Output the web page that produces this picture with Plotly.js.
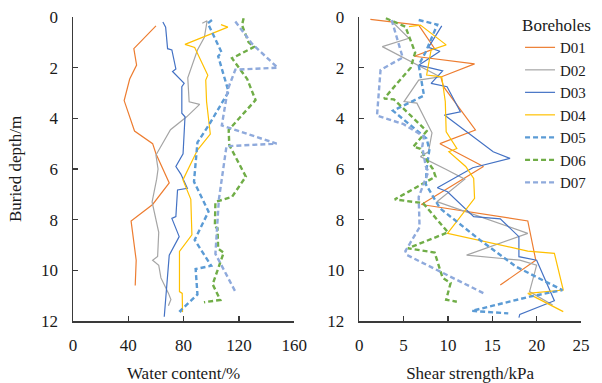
<!DOCTYPE html>
<html>
<head>
<meta charset="utf-8">
<script src="https://cdn.plot.ly/plotly-3.0.1.min.js"></script>
<style>html,body{margin:0;padding:0;background:#fff;}#chart{width:602px;height:383px;}</style>
</head>
<body>
<div id="chart"></div>
<script>
// ---- Data: water content (%) vs depth (m) ----
const boreholes = ["D01", "D02", "D03", "D04", "D05", "D06", "D07"];

const wcD01_depth = [0.35, 1.25, 1.9, 2.45, 3.3, 4.5, 5.0, 5.4, 6.55, 7.4, 8.05, 9.6, 10.6];
const wcD01_value = [60, 44, 46, 41, 37, 44.5, 57.6, 60, 69.6, 57.6, 42, 45.7, 45];

const wcD02_depth = [0.25, 0.15, 0.8, 1.3, 2.4, 3.35, 3.45, 3.95, 4.45, 5.45, 6.0, 6.4, 7.3, 8.5, 9.45, 9.6, 9.8, 10.3, 10.9, 11.15, 11.4];
const wcD02_value = [93.5, 97, 95, 90, 83, 84, 91.6, 82, 70.5, 60, 61.5, 60.5, 57.2, 62, 61.2, 57.6, 62, 63.6, 69, 70.8, 69];

const wcD03_depth = [0.2, 0.4, 1.25, 1.3, 2.05, 2.15, 2.62, 2.75, 3.8, 3.94, 5.4, 5.9, 6.2, 6.76, 6.83, 7.88, 7.95, 8.67, 9.4, 10.84, 11.83];
const wcD03_value = [65, 67, 68.4, 71.5, 74.4, 72, 80.4, 78.7, 78.7, 81, 79.6, 74.4, 78, 82.7, 75.6, 74.4, 71.5, 76.8, 69.6, 67.7, 66];

const wcD04_depth = [0.3, 0.4, 1.08, 1.2, 2.3, 2.49, 3.34, 4.26, 4.62, 5.25, 6.43, 7.2, 8.6, 9.25, 10.84, 10.91, 11.65];
const wcD04_value = [107, 112, 81, 88, 97.5, 96, 96.6, 98.3, 99.3, 90, 79.5, 85.2, 86, 77, 77, 79, 79.2];

const wcD05_depth = [0.12, 0.25, 1.4, 1.55, 2.95, 4.26, 4.95, 5.5, 6.5, 7.68, 8.8, 9.82, 9.95, 10.95, 11.6, 11.72];
const wcD05_value = [100.5, 97.5, 107.5, 105, 112.5, 98.3, 90, 89, 87.5, 98, 88, 100, 88.7, 90, 77.5, 80];

const wcD06_depth = [0.05, 0.32, 1.0, 1.18, 1.63, 2.45, 3.28, 4.46, 5.05, 6.0, 6.3, 7.1, 7.3, 8.28, 8.34, 9.15, 9.3, 10.55, 11.17, 11.26];
const wcD06_value = [123.4, 122.2, 127, 131, 115, 126, 132, 112.6, 113, 122.2, 125, 115, 103, 102.6, 104.5, 105, 109, 101, 106.5, 94.7];

const wcD07_depth = [0.18, 1.05, 2.0, 2.08, 2.85, 4.28, 5.0, 5.1, 7.2, 9.35, 10.84];
const wcD07_value = [117.4, 129.4, 148, 117.4, 112, 107.6, 147.3, 111, 105.5, 103, 117.4];

// ---- Data: shear strength (kPa) vs depth (m) ----
const ssD01_depth = [0.09, 0.32, 1.25, 1.55, 1.85, 2.37, 2.75, 4.46, 5.0, 5.9, 7.4, 8.05, 9.6, 10.58];
const ssD01_value = [1.25, 6.7, 8.5, 6.2, 13, 9.2, 9.5, 13.1, 9.1, 14, 7, 19, 19.9, 15.9];

const ssD02_depth = [0.18, 0.84, 1.17, 2.36, 2.49, 3.34, 3.4, 4.57, 5.32, 5.51, 6.0, 6.4, 7.29, 8.54, 9.4, 9.6, 9.8, 10.84, 11.37];
const ssD02_value = [3.7, 5.6, 2.6, 9.1, 6.7, 5.05, 6.5, 8.2, 7.8, 6.9, 9.7, 11.9, 8.75, 19, 12.1, 18.1, 20, 19.2, 21.8];

const ssD03_depth = [0.35, 1.2, 1.35, 1.9, 2.13, 2.62, 2.75, 3.74, 3.87, 5.32, 5.58, 5.95, 6.74, 6.9, 7.88, 7.97, 8.67, 9.46, 9.6, 11.2, 11.74, 11.87];
const ssD03_value = [9.3, 7.8, 9.1, 6.7, 9.4, 8.1, 9.9, 11.4, 9.6, 15.1, 17, 12.8, 8.8, 9.95, 12.9, 15.9, 18, 18, 20, 22, 18.1, 18];

const ssD04_depth = [0.38, 0.32, 1.1, 1.3, 2.29, 2.36, 3.34, 4.53, 5.19, 5.32, 5.9, 6.37, 7.16, 8.54, 9.24, 9.33, 10.78, 10.91, 11.63];
const ssD04_value = [5.6, 6.9, 9.8, 8.1, 7.6, 9.3, 9.7, 9.8, 11, 10.1, 12, 12.9, 13, 9.95, 19, 22, 23, 19, 23];

const ssD05_depth = [0.12, 0.3, 1.37, 1.9, 3.1, 3.7, 4.8, 5.25, 5.97, 6.6, 7.55, 8.8, 9.86, 10.78, 11.04, 11.6, 11.7];
const ssD05_value = [6.7, 8.8, 7.5, 6.7, 7.3, 3.8, 7.6, 7.9, 7.6, 7.5, 9.1, 13.6, 17.7, 22.9, 19.2, 12.7, 16.8];

const ssD06_depth = [0.05, 0.38, 1.4, 2.0, 3.22, 3.25, 4.5, 5.12, 5.2, 5.65, 6.0, 6.3, 7.2, 7.35, 8.5, 9.13, 9.3, 10.3, 10.5, 11.16, 11.24];
const ssD06_value = [3, 5.2, 6.3, 5.8, 2.8, 3.9, 7.6, 6.1, 6.9, 7.6, 8.3, 8.6, 4, 7.2, 10, 5.5, 8.5, 9.4, 10.3, 9.8, 11];

const ssD07_depth = [0.12, 1.6, 2.09, 3.89, 4.23, 4.72, 5.12, 5.9, 6.1, 7.1, 8.3, 9.24, 9.4, 10.9];
const ssD07_value = [3.65, 4.9, 2.4, 2.0, 5.0, 7.3, 7.1, 7.5, 7.8, 6.7, 6.8, 5.2, 5.4, 14];

const depthTicks = [0, 2, 4, 6, 8, 10, 12];
const wcTicks = [0, 40, 80, 120, 160];
const ssTicks = [0, 5, 10, 15, 20, 25];

// ---- Styles ----
const colors = ["#ED7D31", "#A5A5A5", "#4472C4", "#FFC000", "#5B9BD5", "#70AD47", "#8FAADC"];
const dashed = [false, false, false, false, true, true, true];

const wcData = [
  [wcD01_depth, wcD01_value], [wcD02_depth, wcD02_value], [wcD03_depth, wcD03_value],
  [wcD04_depth, wcD04_value], [wcD05_depth, wcD05_value], [wcD06_depth, wcD06_value],
  [wcD07_depth, wcD07_value]
];
const ssData = [
  [ssD01_depth, ssD01_value], [ssD02_depth, ssD02_value], [ssD03_depth, ssD03_value],
  [ssD04_depth, ssD04_value], [ssD05_depth, ssD05_value], [ssD06_depth, ssD06_value],
  [ssD07_depth, ssD07_value]
];

function lineStyle(i) {
  return dashed[i]
    ? {color: colors[i], width: 2.4, dash: "5px,3px"}
    : {color: colors[i], width: 1.2};
}

const traces = [];
wcData.forEach((d, i) => {
  traces.push({
    type: "scatter", mode: "lines", x: d[1], y: d[0],
    xaxis: "x", yaxis: "y", name: boreholes[i], showlegend: false,
    line: lineStyle(i), hoverinfo: "skip"
  });
});
ssData.forEach((d, i) => {
  traces.push({
    type: "scatter", mode: "lines", x: d[1], y: d[0],
    xaxis: "x2", yaxis: "y2", name: boreholes[i], showlegend: true,
    line: lineStyle(i), hoverinfo: "skip"
  });
});

const FONT = "'Liberation Serif', 'Times New Roman', serif";
const TXT = "#1a1a1a";
const axisCommon = {
  showline: true, linecolor: "#3a3a3a", linewidth: 1.5,
  ticks: "inside", ticklen: 5, tickwidth: 1.3, tickcolor: "#3a3a3a",
  showgrid: false, zeroline: false,
  tickfont: {family: FONT, size: 17, color: TXT},
  automargin: false
};

const yDomain = [0, 304 / 312];

const layout = {
  width: 602, height: 383,
  margin: {l: 73, r: 17, t: 9, b: 62},
  paper_bgcolor: "#fff", plot_bgcolor: "#fff",
  font: {family: FONT, color: TXT},
  showlegend: true,
  xaxis: Object.assign({}, axisCommon, {
    domain: [0, 0.4355], range: [0, 160], tickvals: wcTicks, anchor: "y",
    ticklabelstandoff: 8,
    title: {text: "Water content/%", font: {family: FONT, size: 17, color: TXT}, standoff: 13}
  }),
  yaxis: Object.assign({}, axisCommon, {
    domain: yDomain, range: [12, 0], tickvals: depthTicks, anchor: "x",
    ticklabelstandoff: 10,
    title: {text: "Buried depth/m", font: {family: FONT, size: 17, color: TXT}, standoff: 15}
  }),
  xaxis2: Object.assign({}, axisCommon, {
    domain: [0.5635, 1], range: [0, 25], tickvals: ssTicks, anchor: "y2",
    ticklabelstandoff: 8,
    title: {text: "Shear strength/kPa", font: {family: FONT, size: 17, color: TXT}, standoff: 13}
  }),
  yaxis2: Object.assign({}, axisCommon, {
    domain: yDomain, range: [12, 0], tickvals: depthTicks, anchor: "x2",
    ticklabelstandoff: 10
  }),
  legend: {
    x: 0.88, y: 1.0, xanchor: "left", yanchor: "top",
    bgcolor: "rgba(0,0,0,0)", borderwidth: 0,
    font: {family: FONT, size: 15, color: TXT},
    title: {text: "Boreholes", font: {family: FONT, size: 17, color: TXT}},
    tracegroupgap: 0
  }
};

Plotly.newPlot("chart", traces, layout, {staticPlot: true, displayModeBar: false});
</script>
</body>
</html>
